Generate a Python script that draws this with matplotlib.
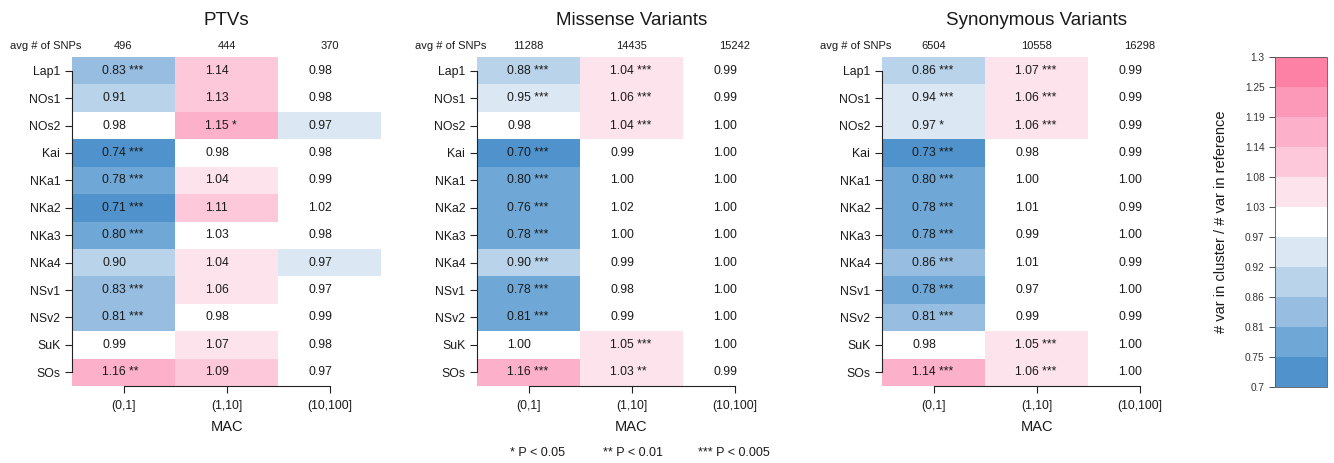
import numpy as np
import matplotlib
matplotlib.use('Agg')
from matplotlib import pyplot as plt
from matplotlib.colors import ListedColormap, BoundaryNorm
import matplotlib.cm as cm

plt.rcParams['font.family'] = ['Liberation Sans', 'DejaVu Sans']

rows = ['Lap1', 'NOs1', 'NOs2', 'Kai', 'NKa1', 'NKa2', 'NKa3', 'NKa4', 'NSv1', 'NSv2', 'SuK', 'SOs']
mac_bins = ['(0,1]', '(1,10]', '(10,100]']
titles = ['PTVs', 'Missense Variants', 'Synonymous Variants']

# avg # of SNPs per MAC bin
ptv_snps = [496, 444, 370]
mis_snps = [11288, 14435, 15242]
syn_snps = [6504, 10558, 16298]

# ratio (# var in cluster / # var in reference), one list per MAC bin
ptv_r0 = [0.83, 0.91, 0.98, 0.74, 0.78, 0.71, 0.80, 0.90, 0.83, 0.81, 0.99, 1.16]
ptv_r1 = [1.136, 1.13, 1.15, 0.98, 1.04, 1.11, 1.026, 1.04, 1.06, 0.98, 1.07, 1.09]
ptv_r2 = [0.98, 0.98, 0.97, 0.98, 0.99, 1.02, 0.98, 0.97, 0.974, 0.99, 0.98, 0.974]
ptv_s0 = ['***', '', '', '***', '***', '***', '***', '', '***', '***', '', '**']
ptv_s1 = ['', '', '*', '', '', '', '', '', '', '', '', '']
ptv_s2 = [''] * 12

mis_r0 = [0.88, 0.95, 0.98, 0.70, 0.80, 0.76, 0.78, 0.90, 0.78, 0.808, 1.00, 1.16]
mis_r1 = [1.04, 1.06, 1.04, 0.99, 1.00, 1.02, 1.00, 0.99, 0.98, 0.99, 1.05, 1.03]
mis_r2 = [0.99, 0.99, 1.00, 1.00, 1.00, 1.00, 1.00, 1.00, 1.00, 1.00, 1.00, 0.99]
mis_s0 = ['***', '***', '', '***', '***', '***', '***', '***', '***', '***', '', '***']
mis_s1 = ['***', '***', '***', '', '', '', '', '', '', '', '***', '**']
mis_s2 = [''] * 12

syn_r0 = [0.864, 0.94, 0.97, 0.73, 0.80, 0.78, 0.78, 0.86, 0.78, 0.81, 0.98, 1.14]
syn_r1 = [1.07, 1.06, 1.06, 0.98, 1.00, 1.01, 0.99, 1.01, 0.974, 0.99, 1.05, 1.06]
syn_r2 = [0.99, 0.99, 0.99, 0.99, 1.00, 0.99, 1.00, 0.99, 1.00, 0.99, 1.00, 1.00]
syn_s0 = ['***', '***', '*', '***', '***', '***', '***', '***', '***', '***', '', '***']
syn_s1 = ['***', '***', '***', '', '', '', '', '', '', '', '***', '***']
syn_s2 = [''] * 12

panels = [
    (ptv_snps, [ptv_r0, ptv_r1, ptv_r2], [ptv_s0, ptv_s1, ptv_s2]),
    (mis_snps, [mis_r0, mis_r1, mis_r2], [mis_s0, mis_s1, mis_s2]),
    (syn_snps, [syn_r0, syn_r1, syn_r2], [syn_s0, syn_s1, syn_s2]),
]

bounds = np.linspace(0.7, 1.3, 12)
colors = ['#4f92cc', '#6fa8d6', '#97bee0', '#b9d4ea', '#dbe7f3', '#ffffff',
          '#fde4ec', '#fdc8da', '#fdb0c9', '#fd99b8', '#fd81a4']
cmap = ListedColormap(colors)
norm = BoundaryNorm(bounds, cmap.N)

W, H = 1334, 463
fig = plt.figure(figsize=(W / 100, H / 100), dpi=100)
txt = '#1a1a1a'

lefts = [72, 477, 882]
for k, (snps, ratios, stars) in enumerate(panels):
    ax = fig.add_axes([lefts[k] / W, (H - 386) / H, 309 / W, 329 / H])
    z = np.array(ratios).T
    ax.pcolormesh(np.arange(4) - 0.5, np.arange(13) - 0.5, z, cmap=cmap, norm=norm)
    ax.set_xlim(-0.5, 2.5)
    ax.set_ylim(11.5, -0.5)
    for j in range(3):
        for i in range(12):
            lab = '%.2f' % ratios[j][i]
            if stars[j][i]:
                lab += ' ' + stars[j][i]
            ax.text(j - 0.205, i, lab, ha='left', va='center', fontsize=8.7, color=txt)
        ax.text(j, -0.9, str(snps[j]), ha='center', va='center', fontsize=8, color=txt)
    ax.text(-0.41, -0.9, 'avg # of SNPs', ha='right', va='center', fontsize=8, color=txt)
    ax.set_title(titles[k], fontsize=13.5, pad=23, color=txt)

    ax.set_yticks(range(12))
    ax.set_yticklabels(rows)
    ax.set_xticks(range(3))
    ax.set_xticklabels(mac_bins)
    ax.tick_params(axis='both', labelsize=8.8, length=5, width=0.8, colors='#222222', labelcolor=txt)
    ax.tick_params(axis='x', pad=5)
    ax.set_xlabel('MAC', fontsize=10.5, color=txt, labelpad=6)
    for s in ['top', 'right']:
        ax.spines[s].set_visible(False)
    ax.spines['left'].set_bounds(0, 11)
    ax.spines['bottom'].set_bounds(0, 2)
    for s in ['left', 'bottom']:
        ax.spines[s].set_linewidth(0.8)
        ax.spines[s].set_color('#222222')
        ax.spines[s].set_zorder(5)

# colorbar
cax = fig.add_axes([1275 / W, (H - 387) / H, 52 / W, 330 / H])
sm = cm.ScalarMappable(norm=norm, cmap=cmap)
cb = fig.colorbar(sm, cax=cax, ticks=bounds, ticklocation='left', spacing='proportional')
cb.ax.set_yticklabels([('%.2f' % b).rstrip('0') for b in bounds])
cb.ax.tick_params(labelsize=7.3, length=4, width=0.6, colors='#333333', labelcolor='#333333')
cb.outline.set_linewidth(0.6)
cb.outline.set_edgecolor('#555555')
cb.set_label('# var in cluster / # var in reference', fontsize=10.5, color=txt, labelpad=12)

# significance legend
fig.text(510 / W, 1 - 453 / H, '* P < 0.05', fontsize=9, color=txt, va='center')
fig.text(603 / W, 1 - 453 / H, '** P < 0.01', fontsize=9, color=txt, va='center')
fig.text(698 / W, 1 - 453 / H, '*** P < 0.005', fontsize=9, color=txt, va='center')

fig.savefig('out.png', dpi=100)
